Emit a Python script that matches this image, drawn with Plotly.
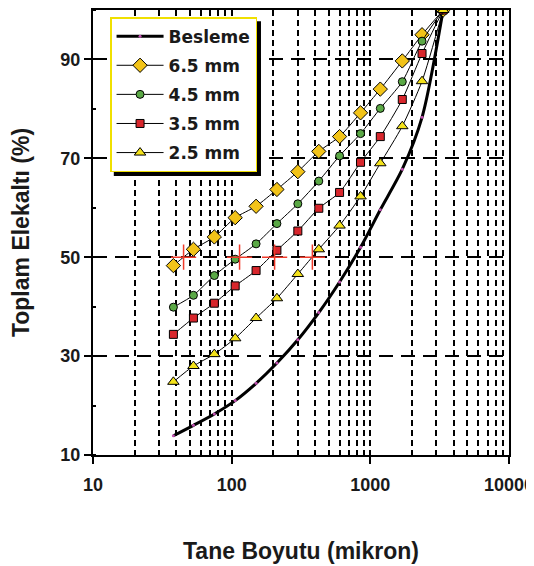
import plotly.graph_objects as go

sizes = [38, 53, 75, 106, 150, 212, 300, 425, 600, 850, 1180, 1700, 2360, 3350]
besleme = [13.9, 16.0, 18.3, 21.0, 24.5, 28.6, 33.3, 38.8, 45.0, 52.0, 59.6, 67.8, 78.3, 100]
mm65 = [48.3, 51.6, 54.1, 58.0, 60.3, 63.7, 67.3, 71.4, 74.4, 79.2, 84.0, 89.7, 95.0, 100]
mm45 = [39.9, 42.3, 46.3, 49.6, 52.7, 56.8, 60.8, 65.4, 70.5, 75.0, 80.1, 85.5, 93.7, 100]
mm35 = [34.4, 37.7, 40.7, 44.2, 47.3, 51.4, 55.3, 59.9, 63.1, 69.2, 74.4, 81.9, 91.2, 100]
mm25 = [24.8, 28.0, 30.4, 33.6, 37.7, 41.7, 46.6, 51.6, 56.4, 62.3, 69.0, 76.5, 85.6, 100]
d50_x = [45, 114, 204, 382]
d50_y = [50, 50, 50, 50]

names = ["Besleme", "6.5 mm", "4.5 mm", "3.5 mm", "2.5 mm"]
x_ticks = [10, 100, 1000, 10000]
x_ticklabels = ["10", "100", "1000", "10000"]
y_ticks = [10, 30, 50, 70, 90]

FONT = "Liberation Sans"
LFONT = "DejaVu Sans"
TXT = "#1a1a1a"
fig = go.Figure()

fig.add_trace(go.Scatter(x=sizes, y=besleme, name=names[0], mode="lines+markers",
                         line=dict(color="black", width=3, shape="spline", smoothing=0.8),
                         marker=dict(size=3, color="#c050b0"), legendgroup="a"))

specs = [
    (mm65, names[1], "diamond", "#f2c318", 11, "b"),
    (mm45, names[2], "circle", "#5aa845", 8, "c"),
    (mm35, names[3], "square", "#d8262c", 8, "d"),
    (mm25, names[4], "triangle-up", "#f4e21a", 10, "e"),
]
for ys, nm, sym, col, sz, grp in specs:
    fig.add_trace(go.Scatter(x=sizes, y=ys, name=nm, mode="lines+markers",
                             line=dict(color="black", width=1, shape="spline", smoothing=0.6),
                             marker=dict(symbol=sym, size=sz, color=col,
                                         line=dict(color="black", width=1)),
                             legendgroup=grp))

fig.add_trace(go.Scatter(x=d50_x, y=d50_y, mode="markers", showlegend=False,
                         marker=dict(symbol="cross-thin", size=18,
                                     line=dict(color="#f03a2a", width=1.5))))

fig.update_layout(
    width=534, height=566,
    margin=dict(l=85, r=33, t=2, b=119),
    paper_bgcolor="white", plot_bgcolor="white",
    font=dict(family=FONT, color=TXT, size=14),
    showlegend=True,
    legend=dict(x=0.041, y=0.984, xanchor="left", yanchor="top",
                bgcolor="white", bordercolor="#f0e000", borderwidth=1.5,
                font=dict(family=LFONT, size=17, color=TXT, weight="bold"),
                tracegroupgap=4, itemwidth=47),
    shapes=[dict(type="rect", xref="paper", yref="paper",
                 x0=0.05, x1=0.4038, y0=0.627, y1=0.975,
                 fillcolor="black", line=dict(width=0), layer="above")],
)

fig.update_xaxes(type="log", range=[1, 4], automargin=False,
                 tickvals=x_ticks, ticktext=x_ticklabels,
                 tickfont=dict(family=FONT, size=18, color=TXT, weight="bold"),
                 ticks="outside", ticklen=7, tickwidth=2, tickcolor="black",
                 ticklabelstandoff=5,
                 showline=True, linecolor="black", linewidth=2, mirror=True,
                 showgrid=False, zeroline=False,
                 minor=dict(dtick="D1", showgrid=True, gridcolor="black",
                            griddash="6px,4px", gridwidth=1.5, ticks=""),
                 title=dict(text="Tane Boyutu (mikron)", standoff=49,
                            font=dict(family=FONT, size=23, color=TXT, weight="bold")))

fig.update_yaxes(range=[10, 100], tickvals=y_ticks, automargin=False,
                 tickfont=dict(family=FONT, size=18, color=TXT, weight="bold"),
                 ticks="outside", ticklen=7, tickwidth=2, tickcolor="black",
                 showline=True, linecolor="black", linewidth=2, mirror=True,
                 showgrid=True, gridcolor="black", griddash="14px,8px", gridwidth=1.5,
                 zeroline=False,
                 minor=dict(tick0=10, dtick=10, ticks="inside", ticklen=3, tickcolor="black",
                            showgrid=False),
                 title=dict(text="Toplam Elekaltı (%)", standoff=27,
                            font=dict(family=FONT, size=23, color=TXT, weight="bold")))

fig.write_html("out.html")
